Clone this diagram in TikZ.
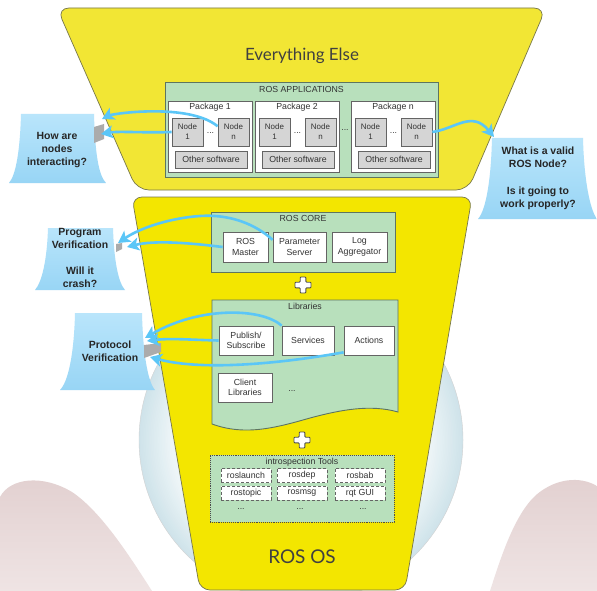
\documentclass[tikz,border=0pt]{standalone}
\usepackage{fontspec}
\setmainfont{Liberation Sans}
\newfontfamily\titlefont{Lato}
\usetikzlibrary{arrows.meta}

\definecolor{yelTop}{HTML}{F2E634}
\definecolor{yelBot}{HTML}{F3E600}
\definecolor{yelEdge}{HTML}{77774A}
\definecolor{grnFill}{HTML}{B8E0BC}
\definecolor{grnEdge}{HTML}{5E7560}
\definecolor{boxEdge}{HTML}{646464}
\definecolor{nodeFill}{HTML}{D5D5D5}
\definecolor{arrowBlue}{HTML}{5BC6F7}
\definecolor{callTop}{HTML}{B9E5FB}
\definecolor{callBot}{HTML}{98D5F5}
\definecolor{circBlue}{HTML}{CFE3EA}
\definecolor{circLight}{HTML}{EDF5F7}
\definecolor{blobTop}{HTML}{E2D0D0}
\definecolor{blobBot}{HTML}{EFE4E4}
\definecolor{wedge}{HTML}{ABABAB}

\newcommand\drawplus[2]{%
  \begin{scope}[shift={(#1,#2)}]
    \draw[plusst] (-2.8,-8) -- (2.8,-8) -- (2.8,-2.8) -- (8,-2.8) -- (8,2.8)
      -- (2.8,2.8) -- (2.8,8) -- (-2.8,8) -- (-2.8,2.8) -- (-8,2.8)
      -- (-8,-2.8) -- (-2.8,-2.8) -- cycle;
  \end{scope}}

\begin{document}
\begin{tikzpicture}[
  x=1bp, y=-1bp,
  lbl/.style={font=\fontsize{8.8}{10.5}\selectfont, text=black!80, align=center, inner sep=0pt},
  gbox/.style={draw=grnEdge, fill=grnFill, line width=0.9bp},
  wbox/.style={lbl, draw=boxEdge, fill=white, line width=0.7bp},
  nbox/.style={lbl, draw=boxEdge, fill=nodeFill, line width=0.7bp,
    minimum width=31bp, minimum height=28bp, font=\fontsize{8}{10}\selectfont},
  obox/.style={lbl, draw=boxEdge, fill=nodeFill, line width=0.7bp,
    minimum width=72bp, minimum height=17bp},
  tbox/.style={lbl, draw=boxEdge, fill=white, densely dashed, line width=0.6bp,
    minimum width=50bp, minimum height=14bp},
  calltext/.style={font=\bfseries\fontsize{10.5}{13}\selectfont, align=center,
    text=black!85, inner sep=0pt},
  callout/.style={top color=callTop, bottom color=callBot},
  conn/.style={draw=arrowBlue, line width=2.6bp,
    -{Stealth[length=12bp,width=13bp,inset=3bp]}},
  yel/.style={draw=yelEdge, line width=0.7bp},
  plusst/.style={draw=black!70, fill=white, line width=0.9bp, rounded corners=0.8bp},
  title/.style={font=\titlefont\fontsize{17}{20}\selectfont, text=black!75, inner sep=0pt}
]
\useasboundingbox (0,0) rectangle (597,591);
\fill[white] (0,0) rectangle (597,591);

% backdrop: pale halo, fading lighter towards its middle
\foreach \i in {0,...,20} {
  \pgfmathsetmacro\rad{162-1.6*\i}
  \pgfmathtruncatemacro\mix{100-5*\i}
  \fill[circBlue!\mix!circLight] (301,440) circle (\rad bp);
}
\draw[black!18, line width=0.4bp] (301,440) circle (162bp);
% two soft hills at the bottom corners
\shade[top color=blobTop, bottom color=blobBot]
  (0,497) .. controls (10,478) and (42,474) .. (72,492)
  .. controls (102,512) and (132,560) .. (152,591) -- (0,591) -- cycle;
\shade[top color=blobTop, bottom color=blobBot]
  (597,486) .. controls (580,476) and (556,478) .. (536,495)
  .. controls (514,515) and (500,560) .. (490,591) -- (597,591) -- cycle;

% the two funnel halves
\draw[yel, fill=yelTop, rounded corners=12bp]
  (57,8) -- (546,8) -- (468,190) -- (137,190) -- cycle;
\draw[yel, fill=yelBot, rounded corners=10bp]
  (132,197) -- (472,197) -- (405,590) -- (200,590) -- cycle;

\node[title, anchor=base] (ee) at (302,61) {Everything Else};
\node[title, anchor=base, font=\titlefont\fontsize{19}{22}\selectfont] (os) at (302,563) {ROS OS};

% ---------- ROS applications ----------
\node[gbox, minimum width=273bp, minimum height=95bp] (apps) at (301.5,129.5) {};
\node[lbl] (appst) at (301.5,89) {ROS APPLICATIONS};

\node[wbox, minimum width=84bp, minimum height=71bp] (pk1) at (210,136.5) {};
\node[lbl] (pk1t) at (210,107.5) {Package 1};
\node[nbox] (p1a) at (187.5,132) {Node\\1};
\node[nbox] (p1n) at (233.5,132) {Node\\n};
\node[lbl] (p1d) at (210.5,133) {...};
\node[obox] (p1o) at (211,159.5) {Other software};

\node[wbox, minimum width=84bp, minimum height=71bp] (pk2) at (297,136.5) {};
\node[lbl] (pk2t) at (297,107.5) {Package 2};
\node[nbox] (p2a) at (274.5,132) {Node\\1};
\node[nbox] (p2n) at (320.5,132) {Node\\n};
\node[lbl] (p2d) at (297.5,133) {...};
\node[obox] (p2o) at (298,159.5) {Other software};

\node[lbl] (pkd) at (345,130) {...};

\node[wbox, minimum width=84bp, minimum height=71bp] (pkn) at (393,136.5) {};
\node[lbl] (pknt) at (393,107.5) {Package n};
\node[nbox] (pna) at (370.5,132) {Node\\1};
\node[nbox] (pnn) at (416.5,132) {Node\\n};
\node[lbl] (pnd) at (393.5,133) {...};
\node[obox] (pno) at (394,159.5) {Other software};

% ---------- ROS core ----------
\node[gbox, minimum width=184bp, minimum height=60bp] (core) at (303,242) {};
\node[lbl] (coret) at (303,218) {ROS CORE};
\node[wbox, minimum width=45bp, minimum height=30bp] (master) at (245.5,247) {ROS\\Master};
\node[wbox, minimum width=53bp, minimum height=30bp] (param) at (299.5,247) {Parameter\\Server};
\node[wbox, minimum width=55bp, minimum height=30bp] (logag) at (359.5,247) {Log\\Aggregator};

\drawplus{303}{285}

% ---------- libraries ----------
\draw[gbox] (212,300) -- (398,300) -- (398,412)
  .. controls (370,404) and (340,410) .. (310,418)
  .. controls (275,428) and (245,436) .. (212,424) -- cycle;
\node[lbl] (libt) at (305,306) {Libraries};
\node[wbox, minimum width=54bp, minimum height=29bp] (pub) at (246,340.5) {Publish/\\Subscribe};
\node[wbox, minimum width=52bp, minimum height=29bp] (serv) at (308,340.5) {Services};
\node[wbox, minimum width=50bp, minimum height=29bp] (act) at (369,340.5) {Actions};
\node[wbox, minimum width=54bp, minimum height=29bp] (client) at (245,387.5) {Client\\Libraries};
\node[lbl] (libd) at (292,391) {...};

\drawplus{302}{440}

% ---------- introspection tools ----------
\node[draw=black!70, densely dotted, fill=grnFill, line width=0.9bp,
  minimum width=184bp, minimum height=67bp] (intro) at (302,488.5) {};
\node[lbl] (introt) at (302,462) {introspection Tools};
\node[tbox] (t1) at (246,475.5) {roslaunch};
\node[tbox] (t2) at (302,475.5) {rosdep};
\node[tbox] (t3) at (360,475.5) {rosbab};
\node[tbox] (t4) at (246,493) {rostopic};
\node[tbox] (t5) at (302,493) {rosmsg};
\node[tbox] (t6) at (360,493) {rqt GUI};
\node[lbl] (d1) at (241,509) {...};
\node[lbl] (d2) at (300,509) {...};
\node[lbl] (d3) at (363,509) {...};

% ---------- question cards ----------
\shade[callout] (21,114) -- (94,114)
  .. controls (95,150) and (98,175) .. (106,183) -- (9,183)
  .. controls (16,175) and (20,150) .. (21,114) -- cycle;
\node[calltext] (how) at (57,150) {How are\\nodes\\interacting?};

\shade[callout] (492,138) -- (583,138)
  .. controls (584,180) and (590,210) .. (597,219) -- (478,219)
  .. controls (486,210) and (491,180) .. (492,138) -- cycle;
\node[calltext] (what) at (538,178.5) {What is a valid\\ROS Node?\\[14bp]Is it going to\\work properly?};

\shade[callout] (48,228) -- (113,228)
  .. controls (114,260) and (118,282) .. (125,290) -- (35,290)
  .. controls (42,282) and (47,260) .. (48,228) -- cycle;
\node[calltext] (prog) at (80,258) {Program\\Verification\\[13bp]Will it\\crash?};

\shade[callout] (75,313) -- (142,313)
  .. controls (143,355) and (148,382) .. (155,390) -- (60,390)
  .. controls (68,382) and (74,355) .. (75,313) -- cycle;
\node[calltext] (proto) at (110,351.5) {Protocol\\Verification};

% pointer wedges at the card edges
\fill[wedge] (94,127) -- (104,124) -- (104,139) -- (94,143) -- cycle;
\fill[wedge] (116,244) -- (122,243) -- (122,249) -- (116,252) -- cycle;
\fill[wedge] (144,345) -- (161,343) -- (161,352) -- (144,358) -- cycle;

% arrow tips on the cards
\coordinate (howA) at (102,119);
\coordinate (howB) at (101,134);
\coordinate (whatA) at (494,137);
\coordinate (progA) at (118,243);
\coordinate (progB) at (127,247);
\coordinate (protoA) at (145,338);
\coordinate (protoB) at (147,341);
\coordinate (protoC) at (150,357);

% ---------- connectors ----------
\draw[conn] (p1n.160) .. controls (200,112) and (165,110) .. (135,112)
  .. controls (120,113) and (110,115) .. (howA);
\draw[conn] (p1a.west) .. controls (145,133) and (118,131) .. (howB);
\draw[conn] (pnn.east) .. controls (455,129) and (472,110) .. (whatA);
\draw[conn] (param.165) .. controls (255,224) and (230,214) .. (200,216)
  .. controls (170,218) and (140,228) .. (progA);
\draw[conn] (master.west) .. controls (190,243) and (155,240) .. (progB);
\draw[conn] (serv.north west) .. controls (262,308) and (200,306) .. (protoA);
\draw[conn] (pub.west) .. controls (195,340) and (170,338) .. (protoB);
\draw[conn] (act.205) .. controls (290,362) and (205,372) .. (protoC);
\end{tikzpicture}
\end{document}
